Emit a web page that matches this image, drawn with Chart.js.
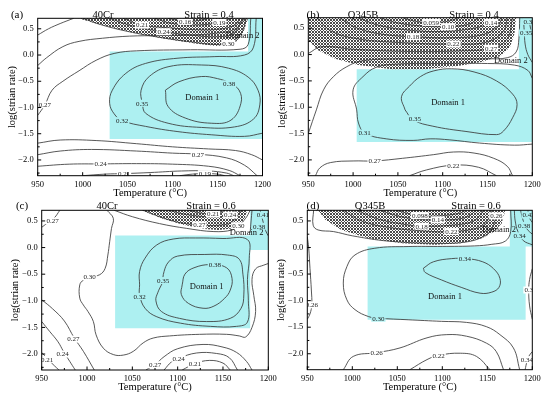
<!DOCTYPE html>
<html>
<head>
<meta charset="utf-8">
<script src="https://cdn.jsdelivr.net/npm/chart.js@4.4.1/dist/chart.umd.min.js"></script>
<style>
html,body{margin:0;padding:0;background:#fff;}
#wrap{position:relative;width:550px;height:399px;overflow:hidden;}
canvas{position:absolute;}
</style>
</head>
<body>
<div id="wrap">
<canvas id="ca" width="275" height="200" style="left:0;top:0"></canvas>
<canvas id="cc" width="285" height="199" style="left:0;top:200px"></canvas>
<canvas id="cb" width="275" height="200" style="left:275px;top:0"></canvas>
<canvas id="cd" width="275" height="199" style="left:275px;top:200px"></canvas>
</div>
<script>
// axes
const xTicks=[950,1000,1050,1100,1150,1200];
const yTicks=[-2.0,-1.5,-1.0,-0.5,0.0,0.5];
const tempRange=[950,1200];
const rateRange=[-2.3,0.7];

// (a) 40Cr, strain 0.4
const aDomain=[[1030,0.065],[1184,0.065],[1184,0.7],[1200,0.7],[1200,-1.6],[1030,-1.6]];
const aHatch=[[995,0.7],[1015,0.6],[1050,0.45],[1088,0.32],[1125,0.22],[1148,0.17],[1168,0.2],[1178,0.4],[1184,0.7]];
const aLines=[
  [[950,0.38],[962,0.5],[975,0.6],[990,0.7]],
  [[950,-0.2],[960,-0.05],[978,0.16],[996,0.26],[1022,0.32],[1052,0.36],[1085,0.37],[1120,0.38],[1150,0.42],[1170,0.5],[1180,0.7]],
  [[1000,0.7],[1020,0.58],[1050,0.45],[1088,0.33],[1125,0.24],[1148,0.2],[1162,0.22],[1176,0.4],[1182,0.7]],
  [[1030,0.7],[1050,0.58],[1070,0.5],[1090,0.445],[1120,0.38],[1150,0.35],[1168,0.42],[1178,0.7]],
  [[1045,0.7],[1066,0.57],[1095,0.52],[1130,0.48],[1155,0.5],[1170,0.58],[1175,0.7]],
  [[1080,0.7],[1100,0.6],[1130,0.575],[1152,0.62],[1166,0.7]],
  [[1095,0.7],[1114,0.64],[1130,0.66],[1140,0.7]],
  [[950,-1.15],[958,-0.95],[966,-0.67],[978,-0.5],[996,-0.3],[1015,-0.1],[1035,0.03],[1060,0.08],[1120,0.1],[1175,0.11],[1184,0.2],[1187,0.7]],
  [[1200,-1.49],[1180,-1.55],[1143,-1.52],[1106,-1.46],[1070,-1.36],[1044,-1.25],[1035,-1.12],[1030,-0.92],[1033,-0.67],[1048,-0.35],[1070,-0.16],[1106,-0.06],[1147,-0.03],[1180,0.0],[1190,0.15],[1193,0.7]],
  [[1066,-0.92],[1070,-1.11],[1095,-1.3],[1132,-1.38],[1169,-1.37],[1190,-1.22],[1197,-0.95],[1195,-0.67],[1184,-0.42],[1162,-0.25],[1132,-0.19],[1096,-0.22],[1074,-0.41],[1065,-0.67],[1066,-0.92]],
  [[1092,-0.67],[1095,-0.98],[1114,-1.2],[1143,-1.3],[1165,-1.24],[1176,-0.92],[1174,-0.67],[1163,-0.53],[1150,-0.45],[1132,-0.41],[1107,-0.51],[1092,-0.67]],
  [[950,-1.68],[975,-1.62],[1015,-1.63],[1060,-1.69],[1100,-1.75],[1140,-1.79],[1170,-1.82],[1188,-1.9],[1200,-2.0]],
  [[950,-1.9],[975,-1.83],[1010,-1.8],[1060,-1.83],[1100,-1.87],[1128,-1.89],[1160,-1.96],[1180,-2.1],[1194,-2.3]],
  [[950,-2.12],[985,-2.08],[1020,-2.075],[1060,-2.07],[1100,-2.08],[1140,-2.12],[1163,-2.2],[1175,-2.3]],
  [[1000,-2.3],[1025,-2.27],[1046,-2.26],[1075,-2.24],[1110,-2.21],[1140,-2.21],[1160,-2.25],[1168,-2.3]],
  [[1108,-2.3],[1122,-2.27],[1136,-2.26],[1150,-2.27],[1158,-2.3]]
];
const aLabels=[[1066,0.57,'0.21'],[1114,0.64,'0.16'],[1152,0.62,'0.19'],[1090,0.445,'0.24'],[1162,0.22,'0.30'],
  [958,-0.95,'0.27'],[1044,-1.25,'0.32'],[1066,-0.92,'0.35'],[1163,-0.55,'0.38'],
  [1128,-1.89,'0.27'],[1020,-2.075,'0.24'],[1046,-2.26,'0.21'],[1136,-2.26,'0.19']];
const aNotes=[[1133,-0.82,'Domain 1'],[1178,0.36,'Domain 2']];

// (b) Q345B, strain 0.4
const bDomain=[[1004,-0.28],[1185,-0.28],[1185,0.7],[1200,0.7],[1200,-1.66],[1004,-1.66]];
const bHatch=[[950,0.7],[950,0.27],[961,0.08],[980,-0.08],[1006,-0.2],[1043,-0.28],[1080,-0.28],[1117,-0.215],[1143,-0.14],[1164,-0.03],[1175,0.14],[1180,0.39],[1182,0.7]];
const bLines=[
  [[950,-1.5],[959,-1.05],[967,-0.67],[978,-0.42],[993,-0.23],[1010,-0.12],[1050,-0.08],[1100,-0.08],[1150,-0.08],[1172,-0.06],[1182,0.05],[1185,0.3],[1186,0.7]],
  [[1200,-1.7],[1180,-1.72],[1141,-1.68],[1108,-1.62],[1086,-1.6],[1067,-1.63],[1037,-1.6],[1013,-1.49],[1006,-1.3],[1004,-1.05],[1000,-0.67],[1011,-0.42],[1026,-0.24],[1050,-0.18],[1100,-0.17],[1150,-0.17],[1180,-0.2],[1195,-0.3],[1200,-0.45]],
  [[1058,-1.05],[1054,-0.8],[1063,-0.6],[1075,-0.42],[1090,-0.31],[1110,-0.27],[1135,-0.33],[1160,-0.5],[1178,-0.75],[1183,-0.95],[1178,-1.2],[1168,-1.45],[1160,-1.52],[1126,-1.46],[1089,-1.36],[1067,-1.24],[1058,-1.05]],
  [[958,-2.3],[963,-2.15],[975,-2.05],[1000,-2.02],[1024,-2.02],[1055,-1.97],[1090,-1.9],[1112,-1.85],[1135,-1.87],[1157,-1.97],[1172,-2.12],[1178,-2.3]],
  [[1063,-2.3],[1082,-2.19],[1112,-2.1],[1140,-2.14],[1160,-2.3]],
  [[1055,0.7],[1070,0.63],[1087,0.61],[1105,0.63],[1118,0.7]],
  [[1030,0.7],[1050,0.6],[1080,0.54],[1106,0.53],[1130,0.58],[1140,0.7]],
  [[1005,0.7],[1030,0.55],[1065,0.46],[1100,0.44],[1135,0.5],[1154,0.61],[1160,0.7]],
  [[985,0.7],[1005,0.5],[1035,0.38],[1067,0.34],[1110,0.32],[1145,0.38],[1162,0.55],[1166,0.7]],
  [[960,0.7],[975,0.45],[1005,0.3],[1050,0.23],[1112,0.2],[1150,0.24],[1168,0.45],[1172,0.7]],
  [[950,0.02],[965,0.15],[1000,0.1],[1060,0.06],[1120,0.07],[1154,0.12],[1172,0.3],[1178,0.7]],
  [[1190,0.7],[1191,0.45],[1192,0.2],[1195,0.0],[1200,-0.15]],
  [[1196,0.7],[1198,0.5],[1200,0.35]]
];
const bLabels=[[1087,0.61,'0.059'],[1106,0.53,'0.10'],[1154,0.61,'0.14'],[1067,0.34,'0.18'],[1112,0.2,'0.22'],[1154,0.12,'0.27'],
  [1197,0.63,'0.31'],[1193,0.41,'0.35'],[1013,-1.49,'0.31'],[1069,-1.22,'0.35'],[1024,-2.02,'0.27'],[1112,-2.1,'0.22']];
const bNotes=[[1106,-0.92,'Domain 1'],[1176,-0.11,'Domain 2']];

// (c) 40Cr, strain 0.6
const cDomain=[[1031,0.225],[1180,0.225],[1180,0.7],[1200,0.7],[1200,-0.045],[1180,-0.045],[1180,-1.515],[1031,-1.515]];
const cHatch=[[1060,0.7],[1082,0.55],[1106,0.43],[1130,0.35],[1145,0.33],[1160,0.36],[1172,0.47],[1177,0.7]];
const cLines=[
  [[950,0.38],[957,0.47],[964,0.56],[970,0.7]],
  [[1022,0.7],[1029,0.55],[1027,0.36],[1025,0.11],[1023,-0.14],[1020,-0.39],[1014,-0.51],[1003,-0.55],[996,-0.61],[992,-0.7],[992,-0.95],[996,-1.08],[1001,-1.2],[1007,-1.39],[1010,-1.64],[1018,-1.89],[1029,-2.01],[1040,-2.02],[1051,-1.95],[1062,-1.79],[1073,-1.7],[1091,-1.66],[1124,-1.63],[1154,-1.63],[1168,-1.66],[1175,-1.68],[1182,-1.5],[1186,-1.2],[1184,-0.9],[1182,-0.6],[1186,-0.4],[1195,-0.33],[1200,-0.3]],
  [[1058,-0.7],[1058,-0.45],[1064,-0.2],[1077,0.05],[1095,0.16],[1120,0.18],[1150,0.17],[1177,0.15],[1179,-0.2],[1177,-0.6],[1178,-1.0],[1177,-1.4],[1165,-1.48],[1136,-1.48],[1103,-1.42],[1077,-1.3],[1064,-1.14],[1058,-0.89],[1058,-0.7]],
  [[1083,-0.67],[1078,-0.85],[1076,-1.0],[1082,-1.2],[1102,-1.33],[1132,-1.39],[1158,-1.33],[1170,-1.14],[1173,-0.89],[1172,-0.5],[1168,-0.22],[1155,-0.14],[1130,-0.13],[1100,-0.16],[1090,-0.27],[1085,-0.45],[1083,-0.67]],
  [[1105,-0.7],[1108,-0.5],[1118,-0.38],[1136,-0.32],[1154,-0.38],[1160,-0.58],[1158,-0.8],[1152,-0.95],[1140,-1.1],[1128,-1.14],[1112,-1.05],[1104,-0.88],[1105,-0.7]],
  [[1030,0.7],[1050,0.58],[1080,0.45],[1110,0.36],[1140,0.3],[1160,0.33],[1167,0.41],[1175,0.55],[1180,0.7]],
  [[1062,0.7],[1085,0.55],[1105,0.46],[1124,0.425],[1145,0.42],[1160,0.48],[1170,0.7]],
  [[1090,0.7],[1110,0.62],[1135,0.58],[1158,0.61],[1164,0.7]],
  [[1112,0.7],[1125,0.65],[1139,0.63],[1148,0.66],[1152,0.7]],
  [[1182,0.7],[1181,0.5],[1180,0.28]],
  [[1191,0.7],[1194,0.5],[1197,0.32],[1200,0.22]],
  [[950,-0.98],[962,-1.15],[975,-1.38],[986,-1.7],[996,-1.95],[1008,-2.3]],
  [[950,-1.39],[959,-1.58],[968,-1.77],[974,-1.95],[981,-2.14],[987,-2.3]],
  [[950,-1.97],[957,-2.1],[964,-2.22],[969,-2.3]],
  [[1065,-2.3],[1075,-2.2],[1085,-2.05],[1100,-1.9],[1128,-1.82],[1150,-1.87],[1165,-1.97],[1176,-2.14],[1182,-2.3]],
  [[1085,-2.3],[1093,-2.15],[1101,-2.08],[1121,-1.98],[1143,-1.99],[1157,-2.07],[1166,-2.3]],
  [[1105,-2.3],[1119,-2.18],[1135,-2.12],[1150,-2.17],[1158,-2.3]]
];
const cLabels=[[962,0.5,'0.27'],[1003,-0.55,'0.30'],[1058,-0.92,'0.32'],[1084,-0.62,'0.35'],[1141,-0.33,'0.38'],
  [1139,0.63,'0.21'],[1158,0.61,'0.24'],[1124,0.425,'0.27'],[1167,0.41,'0.30'],[1194,0.61,'0.41'],[1190,0.4,'0.38'],
  [985,-1.72,'0.27'],[973,-2.0,'0.24'],[956,-2.1,'0.21'],[1075,-2.2,'0.27'],[1101,-2.08,'0.24'],[1119,-2.18,'0.21']];
const cNotes=[[1132,-0.745,'Domain 1'],[1176,0.27,'Domain 2']];

// (d) Q345B, strain 0.6
const dDomain=[[1017,0.02],[1175,0.02],[1175,0.7],[1200,0.7],[1200,0.02],[1192.6,0.02],[1192.6,-1.36],[1017,-1.36]];
const dHatch=[[962,0.7],[970,0.52],[988,0.33],[1018,0.174],[1055,0.08],[1092,0.05],[1121,0.08],[1144,0.174],[1158,0.3],[1166,0.456],[1170,0.7]];
const dLines=[
  [[957,0.7],[956.5,0.42],[962,0.33],[979,0.3],[1000,0.22],[1040,0.12],[1090,0.08],[1125,0.1],[1145,0.2],[1155,0.35],[1160,0.594],[1163,0.7]],
  [[1176,0.7],[1176,0.3],[1170,0.12],[1155,0.06],[1136,0.03],[1100,0.02],[1062,0.018],[1025,-0.014],[1003,-0.14],[994,-0.36],[990,-0.67],[994,-0.985],[1003,-1.17],[1018,-1.3],[1029,-1.33],[1062,-1.36],[1099,-1.39],[1127,-1.41],[1149,-1.49],[1164,-1.64],[1179,-1.89],[1186,-2.3]],
  [[1079,-0.39],[1090,-0.27],[1110,-0.21],[1127,-0.21],[1145,-0.27],[1157,-0.4],[1164,-0.58],[1163,-0.75],[1155,-0.84],[1142,-0.86],[1121,-0.75],[1099,-0.61],[1081,-0.47],[1079,-0.39]],
  [[950,0.2],[951.5,0.0],[953,-0.4],[954.5,-0.8],[955,-1.08],[953,-1.25],[950,-1.35]],
  [[1200,-0.4],[1197,-0.6],[1196,-0.8],[1197,-1.1],[1200,-1.35]],
  [[1200,-1.96],[1196,-2.05],[1194,-2.15],[1192,-2.3]],
  [[990,-2.3],[1001,-2.05],[1027,-1.98],[1053,-1.89],[1083,-1.7],[1105,-1.64],[1127,-1.67],[1149,-1.8],[1160,-1.96],[1168,-2.3]],
  [[1064,-2.3],[1083,-2.11],[1096,-2.03],[1120,-1.99],[1138,-2.05],[1153,-2.3]],
  [[1180,0.7],[1181,0.5],[1184,0.3],[1190,0.13],[1200,0.05]],
  [[1187,0.7],[1190,0.5],[1194,0.35],[1200,0.25]],
  [[1195,0.7],[1197,0.55],[1200,0.47]],
  [[990,0.7],[1010,0.5],[1040,0.38],[1080,0.31],[1110,0.3],[1140,0.37],[1150,0.5],[1155,0.7]],
  [[1005,0.7],[1030,0.53],[1060,0.43],[1077,0.4],[1110,0.42],[1135,0.5],[1146,0.7]],
  [[1030,0.7],[1060,0.56],[1095,0.52],[1125,0.56],[1138,0.7]],
  [[1048,0.7],[1075,0.6],[1100,0.6],[1120,0.65],[1126,0.7]]
];
const dLabels=[[1075,0.6,'0.098'],[1095,0.52,'0.14'],[1077,0.4,'0.18'],[1110,0.3,'0.22'],[1160,0.594,'0.26'],
  [1196,0.61,'0.42'],[1191,0.42,'0.38'],[1186,0.22,'0.34'],[1125,-0.21,'0.34'],[1029,-1.33,'0.30'],
  [955,-1.08,'0.26'],[1198,-0.8,'0.36'],[1194,-2.11,'0.34'],[1027,-1.98,'0.26'],[1096,-2.03,'0.22']];
const dNotes=[[1103,-0.92,'Domain 1'],[1163,0.34,'Domain 2']];

const SERIF="'Liberation Serif','Times New Roman',serif";
const CYAN='#adf0f1';
const LINE='#3a3a3a';

// canvas placement of each panel
const panels=[
  {id:'ca',tag:'(a)',steel:'40Cr',strain:'Strain = 0.4',yTitle:'log(strian rate)',domain:aDomain,hatch:aHatch,lines:aLines,labels:aLabels,notes:aNotes,
   g:{W:275,H:200,left:37.7,right:265,top:18.3,bottom:175.7,ty:12.5,tagX:17,matX:103,strX:209,textY:15}},
  {id:'cb',tag:'(b)',steel:'Q345B',strain:'Strain = 0.4',yTitle:'log(strain rate)',domain:bDomain,hatch:bHatch,lines:bLines,labels:bLabels,notes:bNotes,
   g:{W:275,H:200,left:33.3,right:257.3,top:17.7,bottom:175.7,ty:7,tagX:38,matX:88,strX:199,textY:15}},
  {id:'cc',tag:'(c)',steel:'40Cr',strain:'Strain = 0.6',yTitle:'log(strian rate)',domain:cDomain,hatch:cHatch,lines:cLines,labels:cLabels,notes:cNotes,
   g:{W:285,H:199,left:41.7,right:268.3,top:10.3,bottom:170,ty:15,tagX:22,matX:107,strX:211,textY:6}},
  {id:'cd',tag:'(d)',steel:'Q345B',strain:'Strain = 0.6',yTitle:'log(strian rate)',domain:dDomain,hatch:dHatch,lines:dLines,labels:dLabels,notes:dNotes,
   g:{W:275,H:199,left:32.3,right:257.3,top:10.3,bottom:169.7,ty:6.5,tagX:38,matX:95,strX:201,textY:6}}
];

// fine cross-hatch, period 3 px
function hatchPattern(ctx){
  const c=document.createElement('canvas');
  c.width=3;c.height=3;
  const g=c.getContext('2d');
  g.fillStyle='#fff';g.fillRect(0,0,3,3);
  g.fillStyle='#4a4a4a';
  [[0,0],[1,1],[2,2],[1,2],[2,1]].forEach(([x,y])=>g.fillRect(x,y,1,1));
  return ctx.createPattern(c,'repeat');
}

function inside(poly,x,y){
  let c=false;
  for(let i=0,j=poly.length-1;i<poly.length;j=i++){
    const [xi,yi]=poly[i],[xj,yj]=poly[j];
    if(((yi>y)!==(yj>y)) && (x<(xj-xi)*(y-yi)/(yj-yi)+xi)) c=!c;
  }
  return c;
}

function mapPlugin(p){
  const polyPath=(chart,poly)=>{
    const {x,y}=chart.scales;
    const ctx=chart.ctx;
    ctx.beginPath();
    poly.forEach(([a,b],i)=>{
      const px=x.getPixelForValue(a),py=y.getPixelForValue(b);
      i?ctx.lineTo(px,py):ctx.moveTo(px,py);
    });
    ctx.closePath();
  };
  return {
    id:'procMap',
    beforeDatasetsDraw(chart){
      const ctx=chart.ctx,a=chart.chartArea;
      ctx.save();
      ctx.beginPath();ctx.rect(a.left,a.top,a.right-a.left,a.bottom-a.top);ctx.clip();
      polyPath(chart,p.domain);ctx.fillStyle=CYAN;ctx.fill();
      polyPath(chart,p.hatch);ctx.fillStyle=hatchPattern(ctx);ctx.fill();
      ctx.restore();
    },
    afterDatasetsDraw(chart){
      const ctx=chart.ctx,a=chart.chartArea,{x,y}=chart.scales;
      ctx.save();
      ctx.beginPath();ctx.rect(a.left,a.top,a.right-a.left,a.bottom-a.top);ctx.clip();
      ctx.textAlign='center';ctx.textBaseline='middle';
      ctx.font='7px '+SERIF;
      p.labels.forEach(([vx,vy,t])=>{
        const px=x.getPixelForValue(vx),py=y.getPixelForValue(vy);
        const w=ctx.measureText(t).width+2;
        const bg=inside(p.hatch,vx,vy)?'#fff':(inside(p.domain,vx,vy)?CYAN:'#fff');
        ctx.fillStyle=bg;ctx.fillRect(px-w/2,py-3.5,w,7);
        ctx.fillStyle='#222';ctx.fillText(t,px,py+0.5);
      });
      ctx.font='8.5px '+SERIF;
      ctx.fillStyle='#111';
      p.notes.forEach(([vx,vy,t])=>ctx.fillText(t,x.getPixelForValue(vx),y.getPixelForValue(vy)));
      ctx.restore();
      // frame and inward ticks
      ctx.save();
      ctx.strokeStyle='#000';ctx.lineWidth=1;
      ctx.strokeRect(a.left,a.top,a.right-a.left,a.bottom-a.top);
      ctx.beginPath();
      for(let v=tempRange[0];v<=tempRange[1];v+=25){
        const px=x.getPixelForValue(v),len=v%50===0?3.5:2;
        ctx.moveTo(px,a.bottom);ctx.lineTo(px,a.bottom-len);
      }
      for(let v=-2.25;v<=0.7;v+=0.25){
        const py=y.getPixelForValue(v),len=Math.abs(v*2-Math.round(v*2))<1e-6?3.5:2;
        ctx.moveTo(a.left,py);ctx.lineTo(a.left+len,py);
      }
      ctx.stroke();
      ctx.restore();
    },
    afterDraw(chart){
      const ctx=chart.ctx,g=p.g;
      ctx.save();
      ctx.fillStyle='#000';ctx.textBaseline='middle';ctx.textAlign='center';
      ctx.font='11px '+SERIF;
      ctx.fillText(p.tag,g.tagX,g.textY);
      ctx.font='10.5px '+SERIF;
      ctx.fillText(p.steel,g.matX,g.textY);
      ctx.fillText(p.strain,g.strX,g.textY);
      ctx.restore();
    }
  };
}

function buildChart(p){
  const g=p.g;
  const datasets=p.lines.map(pts=>({
    data:pts.map(([x,y])=>({x,y})),
    showLine:true,borderColor:LINE,borderWidth:0.85,pointRadius:0,tension:0.4,fill:false
  }));
  const tickFont={family:SERIF,size:8.5};
  const titleFont={family:SERIF,size:10.5};
  return new Chart(document.getElementById(p.id),{
    type:'scatter',
    data:{datasets},
    options:{
      responsive:false,animation:false,events:[],
      layout:{padding:{left:0,top:g.top,right:g.W-g.right,bottom:g.H-g.bottom-24.5}},
      plugins:{legend:{display:false},tooltip:{enabled:false}},
      scales:{
        x:{type:'linear',min:tempRange[0],max:tempRange[1],
          afterBuildTicks:s=>{s.ticks=xTicks.map(v=>({value:v}));},
          afterFit:s=>{s.height=24.5;},
          grid:{display:false,drawTicks:false},border:{display:false},
          ticks:{font:tickFont,color:'#000',padding:4,maxRotation:0,callback:v=>String(v)},
          title:{display:true,text:'Temperature (\u00B0C)',font:titleFont,color:'#000',padding:{top:0,bottom:1}}},
        y:{type:'linear',min:rateRange[0],max:rateRange[1],
          afterBuildTicks:s=>{s.ticks=yTicks.map(v=>({value:v}));},
          afterFit:s=>{s.width=g.left;},
          grid:{display:false,drawTicks:false},border:{display:false},
          ticks:{font:tickFont,color:'#000',padding:4,callback:v=>(v<0?'\u2212':'')+Math.abs(v).toFixed(1)},
          title:{display:true,text:p.yTitle,font:titleFont,color:'#000',padding:{top:Math.max(g.ty-6.3,0),bottom:0}}}
      }
    },
    plugins:[mapPlugin(p)]
  });
}

panels.forEach(buildChart);
</script>
</body>
</html>
